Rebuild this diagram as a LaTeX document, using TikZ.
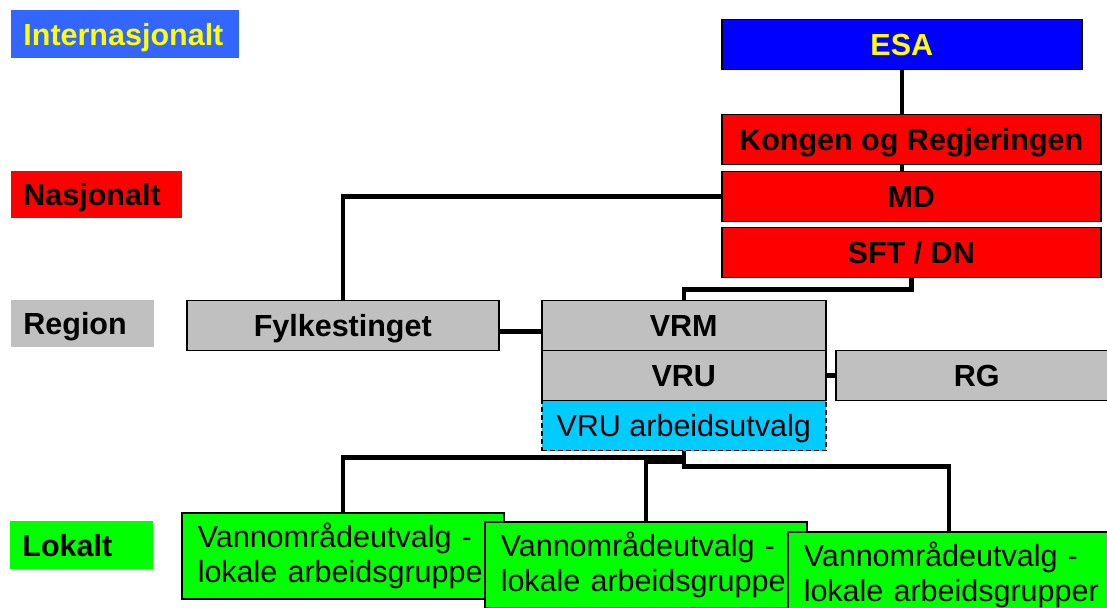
\documentclass[tikz,border=0pt]{standalone}
\usepackage{fontspec}
\setmainfont{Liberation Sans}
\usepackage{xcolor}
\definecolor{lblblue}{HTML}{3366FF}
\definecolor{esablue}{HTML}{0000FF}
\definecolor{orgred}{HTML}{FF0000}
\definecolor{orggray}{HTML}{C0C0C0}
\definecolor{grpgreen}{HTML}{00FF00}
\definecolor{aucyan}{HTML}{00CCFF}
\definecolor{esayellow}{HTML}{FFFF00}
\newcommand{\boxfont}{\fontsize{15.25}{17.5}\selectfont}
\tikzset{
  lbl/.style={anchor=north west, inner sep=0pt, inner xsep=6pt, align=left,
    font=\boxfont\bfseries, text height=11pt, text depth=0pt, minimum height=24pt},
  org/.style={anchor=north west, draw, line width=0.75pt, inner sep=0pt,
    font=\boxfont\bfseries, text height=11pt, text depth=0pt, minimum height=25pt},
  grp/.style={anchor=north west, draw, line width=0.75pt, fill=grpgreen, inner sep=0pt,
    inner xsep=8pt, text width=145pt, align=left, font=\boxfont, minimum height=43pt},
  conn/.style={line width=2.25pt}
}

\begin{document}
\begin{tikzpicture}[x=0.5pt,y=-0.5pt]
    \useasboundingbox (0,0) rectangle (1107,608);
    \clip (0,0) rectangle (1107,608);
    % niv\aa er
    \node[lbl, fill=lblblue, text=esayellow, text width=102pt] (intl) at (11,10) {Internasjonalt};
    \node[lbl, fill=orgred, text width=73.5pt, minimum height=23.5pt] (nasj) at (11,171) {Nasjonalt};
    \node[lbl, fill=orggray, text width=59.5pt, minimum height=23.5pt] (region) at (11,300) {Region};
    \node[lbl, fill=grpgreen, text width=59.5pt] (lokalt) at (10,521) {Lokalt};

    % nasjonalt
    \node[org, fill=esablue, text=esayellow, minimum width=180pt] (esa) at (721,19) {ESA};
    \node[org, fill=orgred, minimum width=189.5pt] (kongen) at (721,114) {Kongen og Regjeringen};
    \node[org, fill=orgred, minimum width=189.5pt] (md) at (721,171) {MD};
    \node[org, fill=orgred, minimum width=189.5pt] (sft) at (721,227) {SFT / DN};

    % region
    \node[org, fill=orggray, minimum width=156pt] (fylke) at (186,300) {Fylkestinget};
    \node[org, fill=orggray, minimum width=142pt] (vrm) at (541,300) {VRM};
    \node[org, fill=orggray, minimum width=142pt] (vru) at (541,350) {VRU};
    \node[org, fill=aucyan, minimum width=142pt, font=\boxfont, dash pattern=on 2.5pt off 1.5pt] (vrua) at (541,400) {VRU arbeidsutvalg};
    \node[org, fill=orggray, minimum width=141pt] (rg) at (835,350) {RG};

    % lokalt
    \node[grp] (grp1) at (181,512) {Vannområdeutvalg -\\\mbox{lokale arbeidsgrupper}};
    \node[grp] (grp2) at (484,521) {Vannområdeutvalg -\\\mbox{lokale arbeidsgrupper}};
    \node[grp] (grp3) at (787,531) {Vannområdeutvalg -\\\mbox{lokale arbeidsgrupper}};

    % linjer
    \draw[conn] (esa.south) -- (esa.south |- kongen.north);
    \draw[conn] (esa.south |- kongen.south) -- (esa.south |- md.north);
    \draw[conn] (md.west) -| (fylke.north);
    \draw[conn] (sft.south) -- ++(0,11) -| (vrm.north);
    \draw[conn] ([yshift=-3pt]fylke.east) -- ([yshift=-3pt]vrm.west);
    \draw[conn] (vru.east) -- (rg.west);
    \draw[conn] (vrua.south) -- ++(0,6) -| (grp1.north);
    \draw[conn] (vrua.south) -- ++(0,10) -| (grp2.north);
    \draw[conn] (vrua.south) -- ++(0,15) -| (grp3.north);
\end{tikzpicture}
\end{document}
